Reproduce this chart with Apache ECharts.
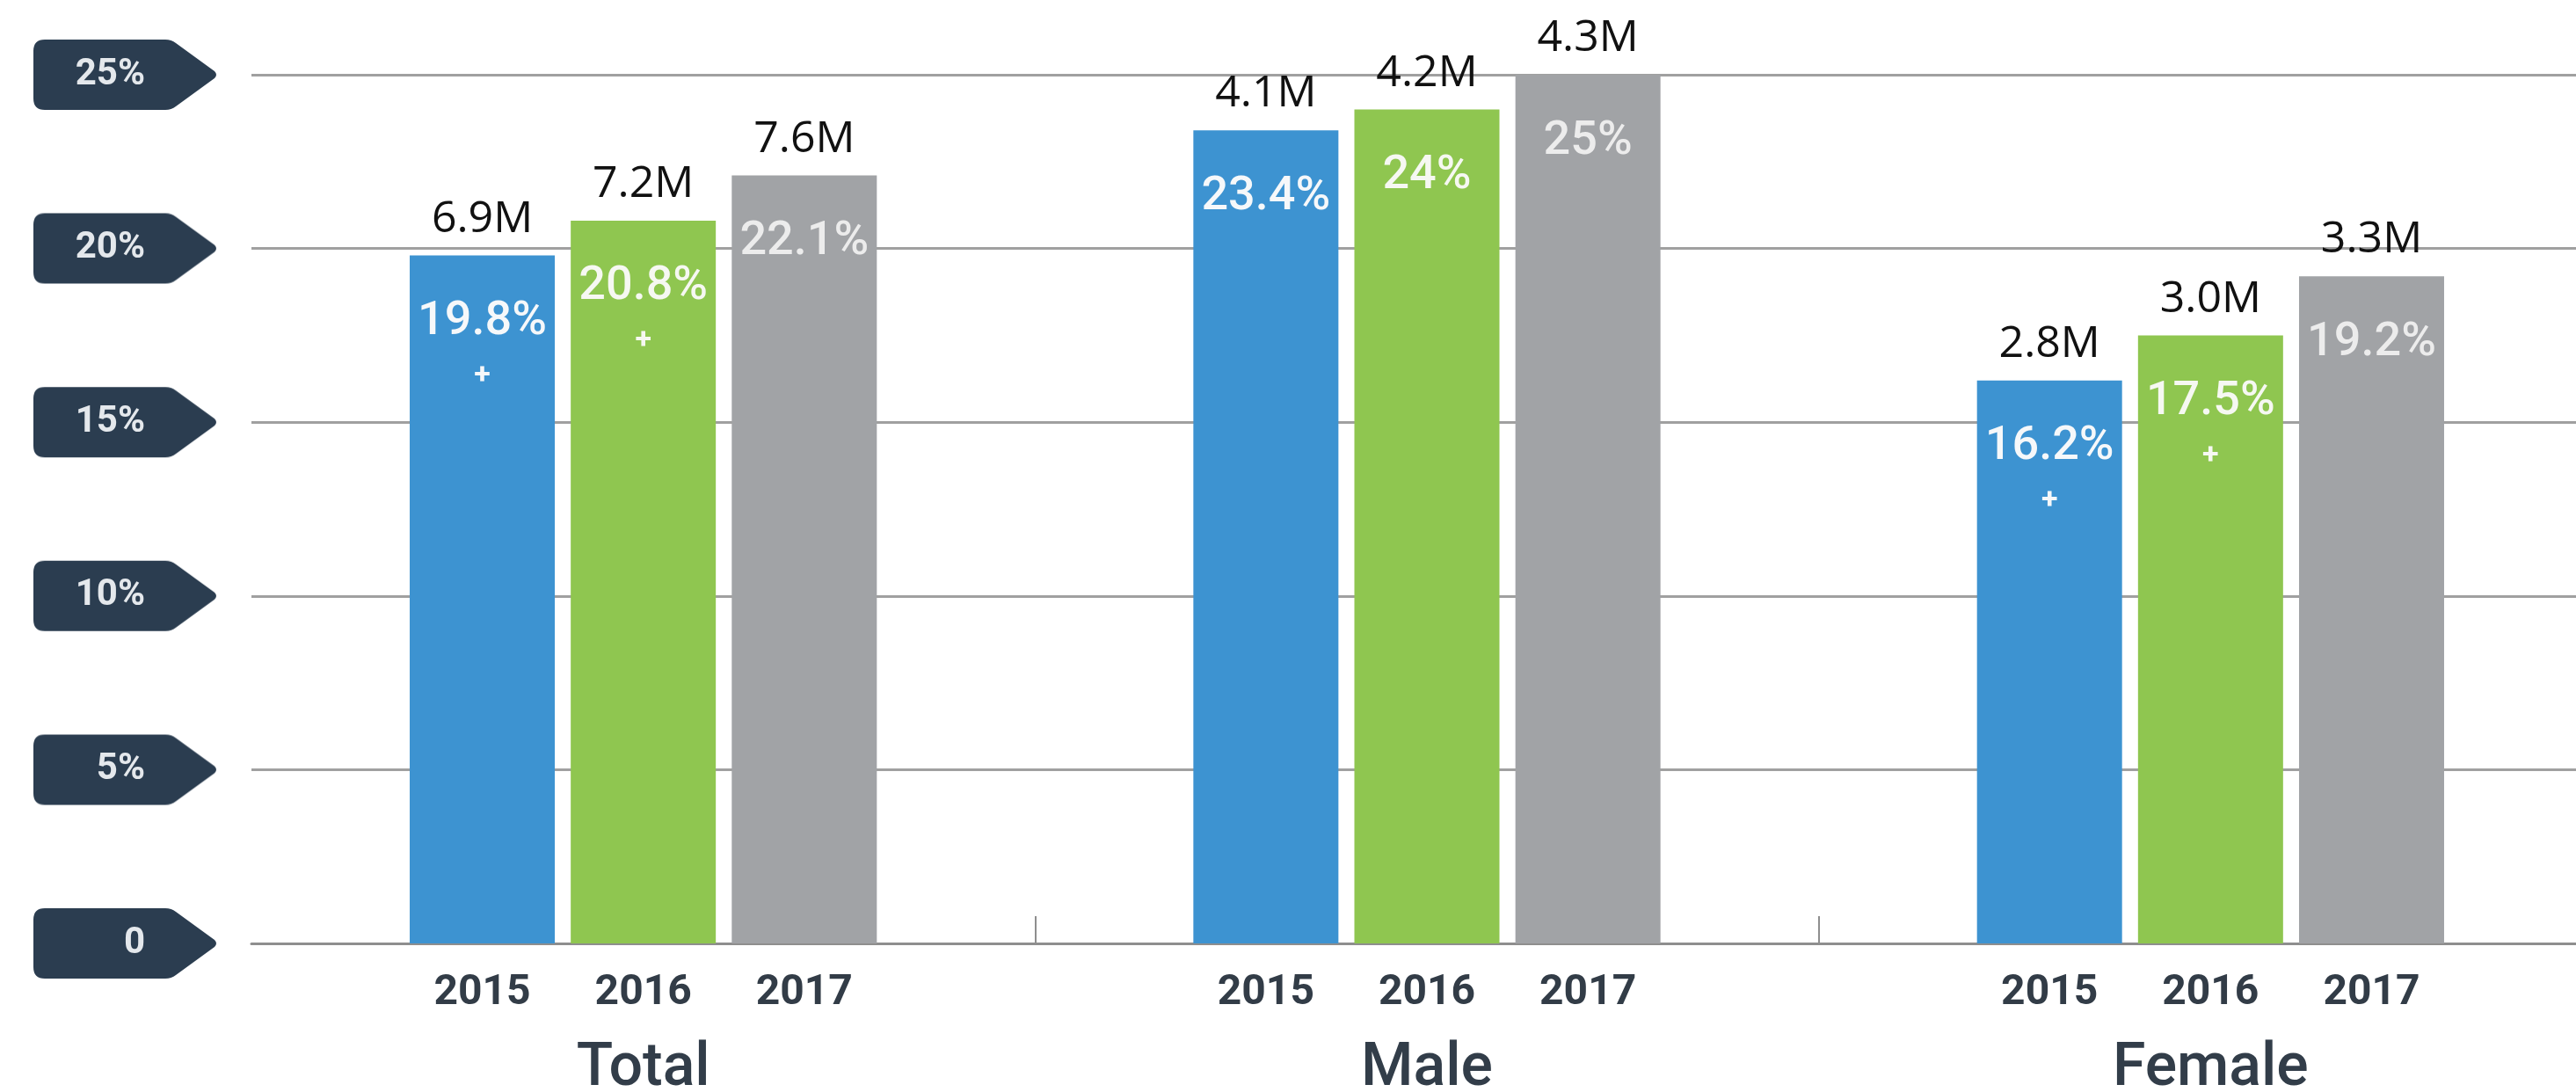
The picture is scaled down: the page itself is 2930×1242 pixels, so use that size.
<!DOCTYPE html>
<html>
<head>
<meta charset="utf-8">
<script src="https://cdn.jsdelivr.net/npm/echarts@6/dist/echarts.min.js"></script>
<style>
html, body { margin: 0; background: #ffffff; }
#ShareChart { width: 2930px; height: 1242px; }
</style>
</head>
<body>
<div id="ShareChart"></div>
<script>
// data
const groups = ['Total', 'Male', 'Female']
const years = ['2015', '2016', '2017']
const share2015 = [19.8, 23.4, 16.2]
const share2016 = [20.8, 24, 17.5]
const share2017 = [22.1, 25, 19.2]
const people2015 = ['6.9M', '4.1M', '2.8M']
const people2016 = ['7.2M', '4.2M', '3.0M']
const people2017 = ['7.6M', '4.3M', '3.3M']
const plus2015 = [true, false, true]
const plus2016 = [true, false, true]
const plus2017 = [false, false, false]
const yMin = 0
const yMax = 25
const yStep = 5

// the dark tag shape behind the y axis labels
function makeBadge () {
  const c = document.createElement('canvas')
  c.width = 210
  c.height = 80
  const ctx = c.getContext('2d')
  ctx.fillStyle = '#2b3d50'
  ctx.fill(new Path2D('M13,0 H150 Q157,0 162,4 L206,36 Q210,40 206,44 L162,76 Q157,80 150,80 H13 Q0,80 0,67 V13 Q0,0 13,0 Z'))
  return c
}

function yearSeries (i, shares, people, plus, color, textColor) {
  const common = {
    type: 'bar',
    stack: years[i],
    stackStrategy: 'all',
    barWidth: 165,
    barGap: '11%'
  }
  return [
    Object.assign({}, common, {
      name: years[i] + ' axis',
      data: groups.map(() => 0),
      itemStyle: { color: 'transparent' },
      label: {
        show: true,
        position: 'bottom',
        distance: 33,
        formatter: years[i],
        fontFamily: 'Roboto',
        fontWeight: 'bold',
        fontSize: 48,
        lineHeight: 48,
        color: '#323c47'
      }
    }),
    Object.assign({}, common, {
      name: years[i],
      data: shares,
      itemStyle: { color: color },
      label: {
        show: true,
        position: 'insideTop',
        distance: 46,
        formatter: function (p) {
          let s = '{p|' + p.value + '%}'
          if (plus[p.dataIndex]) s += '\n{s|+}'
          return s
        },
        rich: {
          p: { fontFamily: 'Roboto', fontWeight: 500, fontSize: 54, lineHeight: 60, color: textColor },
          s: { fontFamily: 'Roboto', fontWeight: 'bold', fontSize: 34, lineHeight: 62, color: textColor }
        }
      }
    }),
    Object.assign({}, common, {
      name: years[i] + ' people',
      data: groups.map(() => 0),
      itemStyle: { color: 'transparent' },
      label: {
        show: true,
        position: 'top',
        distance: 16,
        formatter: function (p) { return people[p.dataIndex] },
        fontFamily: 'Open Sans',
        fontSize: 50,
        lineHeight: 50,
        color: '#111111'
      }
    })
  ]
}

const badge = makeBadge()
const chart = echarts.init(document.getElementById('ShareChart'))
chart.setOption({
  backgroundColor: '#ffffff',
  animation: false,
  grid: {
    left: 286,
    right: -30,
    top: 85,
    bottom: 169,
    containLabel: false,
    outerBoundsMode: 'none'
  },
  xAxis: {
    type: 'category',
    data: groups,
    axisLine: { lineStyle: { color: '#8e8e8e', width: 3 } },
    axisTick: {
      show: true,
      inside: true,
      length: 31,
      interval: function (i) { return i > 0 },
      lineStyle: { color: '#8e8e8e', width: 2 }
    },
    axisLabel: {
      margin: 110,
      fontFamily: 'Roboto',
      fontWeight: 500,
      fontSize: 68,
      lineHeight: 68,
      color: '#323d49'
    }
  },
  yAxis: {
    type: 'value',
    min: yMin,
    max: yMax,
    interval: yStep,
    axisLine: { show: false },
    axisTick: { show: false },
    splitLine: { lineStyle: { color: '#a0a0a0', width: 3 } },
    axisLabel: {
      margin: 38,
      formatter: function (v) {
        return '{v|' + (v === 0 ? '0' : v + '%') + '}{s| }'
      },
      backgroundColor: { image: badge },
      rich: {
        v: { width: 127, height: 80, lineHeight: 80, align: 'right', fontFamily: 'Roboto', fontWeight: 'bold', fontSize: 42, color: '#e4e8ec' },
        s: { width: 83, height: 80, lineHeight: 80, align: 'right', fontSize: 10 }
      }
    }
  },
  series: [].concat(
    yearSeries(0, share2015, people2015, plus2015, '#3d93d1', '#f6f8fa'),
    yearSeries(1, share2016, people2016, plus2016, '#8fc650', '#f6f8f2'),
    yearSeries(2, share2017, people2017, plus2017, '#a1a3a6', '#ececec')
  )
})
</script>
</body>
</html>
